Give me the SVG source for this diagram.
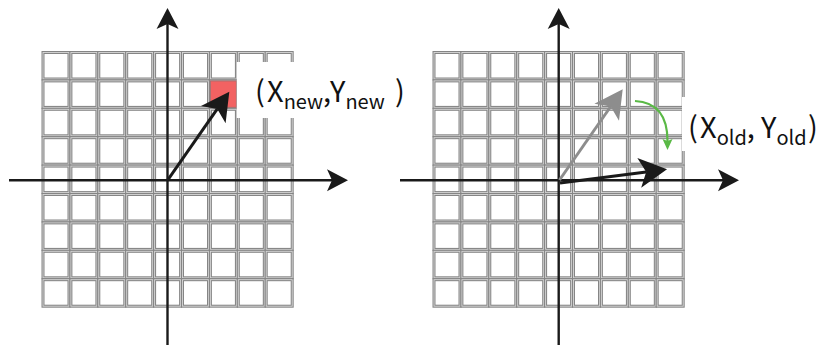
<svg xmlns="http://www.w3.org/2000/svg" width="822" height="345" viewBox="0 0 822 345">
<style>
.c1{fill:none;stroke:#858585;stroke-width:3}
.c2{fill:none;stroke:#d8d8d8;stroke-width:0.9}
.axis{stroke:#1a1a1a;stroke-width:2.4;fill:none}
.vec{stroke:#1a1a1a;stroke-width:3;fill:none}
.gvec{stroke:#8d8d8d;stroke-width:3;fill:none}
.grn{stroke:#5ab946;stroke-width:2.2;fill:none}
.mask{fill:#ffffff}
.lbl{font-family:"Noto Sans CJK SC","Noto Sans",sans-serif;font-size:29px;fill:#111111}
.sub{font-size:20px}
</style>
<defs>
<marker id="axHead" markerUnits="userSpaceOnUse" viewBox="0 0 30 30" markerWidth="30" markerHeight="30" refX="10" refY="15" orient="auto">
<path d="M26,15 L5,4 L10,15 L5,26 Z" fill="#1a1a1a"/>
</marker>
<marker id="vecHead" markerUnits="userSpaceOnUse" viewBox="0 0 36 36" markerWidth="36" markerHeight="36" refX="9" refY="18" orient="auto">
<path d="M30,18 L2,3 L9,18 L2,33 Z" fill="#1a1a1a"/>
</marker>
<marker id="grayHead" markerUnits="userSpaceOnUse" viewBox="0 0 36 36" markerWidth="36" markerHeight="36" refX="9" refY="18" orient="auto">
<path d="M30,18 L2,3 L9,18 L2,33 Z" fill="#8d8d8d"/>
</marker>
<marker id="grnHead" markerUnits="userSpaceOnUse" viewBox="0 0 14 14" markerWidth="14" markerHeight="14" refX="3" refY="7" orient="auto">
<path d="M12,7 L1,2 L3,7 L1,12 Z" fill="#5ab946"/>
</marker>
<g id="cell"><rect class="c1" x="0" y="0" width="26" height="26.5"/><rect class="c2" x="0" y="0" width="26" height="26.5"/></g>
<g id="row">
<use href="#cell" x="0"/><use href="#cell" x="27.9"/><use href="#cell" x="55.8"/><use href="#cell" x="83.7"/><use href="#cell" x="111.6"/><use href="#cell" x="139.5"/><use href="#cell" x="167.4"/><use href="#cell" x="195.3"/><use href="#cell" x="223.2"/>
</g>
<g id="grid">
<use href="#row" y="0"/><use href="#row" y="28.4"/><use href="#row" y="56.8"/><use href="#row" y="85.2"/><use href="#row" y="113.6"/><use href="#row" y="142"/><use href="#row" y="170.4"/><use href="#row" y="198.8"/><use href="#row" y="227.2"/>
</g>
</defs>
<rect width="822" height="345" fill="#ffffff"/>
<g id="grid-new"><use href="#grid" x="43" y="52.5"/></g>
<g id="grid-old"><use href="#grid" x="434" y="52.5"/></g>
<g id="target-cell"><rect x="210.4" y="80.9" width="26" height="26.5" fill="#f26262" stroke="#a07070" stroke-width="1"/></g>
<g id="label-masks">
<rect class="mask" x="236.8" y="62" width="185" height="56"/>
<rect class="mask" x="682" y="97" width="140" height="54"/>
</g>
<g id="connectors">
<path class="axis" d="M167.5,345 L167.5,24" marker-end="url(#axHead)"/>
<path class="axis" d="M9,180.3 L332,180.3" marker-end="url(#axHead)"/>
<path class="axis" d="M558.7,345 L558.7,24" marker-end="url(#axHead)"/>
<path class="axis" d="M400,180.3 L723,180.3" marker-end="url(#axHead)"/>
<path class="vec" d="M167.5,180.3 L217.3,108.9" marker-end="url(#vecHead)"/>
<path class="gvec" d="M559.5,180 L610.7,106.5" marker-end="url(#grayHead)"/>
<path class="vec" d="M560,183 L646.2,172" marker-end="url(#vecHead)"/>
<path class="grn" d="M635,101 C654,102 667.5,113 667.5,141" marker-end="url(#grnHead)"/>
</g>
<g id="label-new">
<text class="lbl" y="102"><tspan x="255">(</tspan><tspan x="267">X</tspan><tspan class="sub" dy="7">new</tspan><tspan dy="-7">,</tspan><tspan x="330">Y</tspan><tspan class="sub" dy="7">new</tspan><tspan x="395" dy="-7">)</tspan></text>
</g>
<g id="label-old">
<text class="lbl" y="138"><tspan x="688">(</tspan><tspan x="700">X</tspan><tspan class="sub" dy="7">old</tspan><tspan dy="-7">,</tspan><tspan x="761">Y</tspan><tspan class="sub" dy="7">old</tspan><tspan x="808" dy="-7">)</tspan></text>
</g>
</svg>
